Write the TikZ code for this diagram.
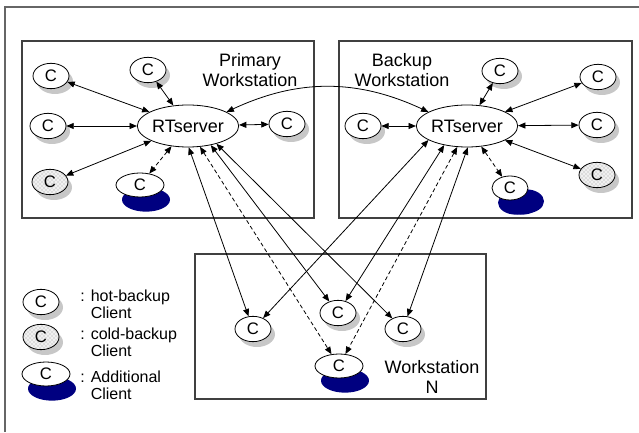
\documentclass[tikz,border=0pt]{standalone}
\usepackage{fontspec}
\setmainfont{Liberation Sans}
\usetikzlibrary{shapes.geometric,shadows,patterns,arrows.meta}
\definecolor{navy}{RGB}{0,0,128}

\begin{document}
\begin{tikzpicture}[x=0.75pt,y=0.75pt,semithick,>={Triangle[length=5.5pt,width=4.5pt]},
	client/.style={ellipse,draw,fill=white,minimum width=27pt,minimum height=19pt,inner sep=0pt,font=\fontsize{12.5}{12.5}\selectfont,drop shadow={shadow xshift=3pt,shadow yshift=-4pt,fill=black!22,opacity=1}},
	cold/.style={client,preaction={fill=gray!12},pattern=crosshatch dots,pattern color=gray!75},
	extra/.style={ellipse,draw,fill=white,minimum width=36pt,minimum height=18pt,inner sep=0pt,font=\fontsize{12.5}{12.5}\selectfont,drop shadow={shadow xshift=4.5pt,shadow yshift=-11pt,fill=navy,opacity=1}},
	server/.style={ellipse,draw,fill=white,minimum width=75pt,minimum height=31.5pt,inner sep=0pt,font=\fontsize{13.5}{13.5}\selectfont},
	wsbox/.style={draw=black!75,line width=0.8pt},
	wslabel/.style={align=center,font=\fontsize{13.5}{15}\selectfont},
	keytext/.style={anchor=west,inner sep=0pt,align=left,font=\fontsize{12}{12.75}\selectfont}]
	\useasboundingbox (0,0) rectangle (639,432);
	\draw[black!60,line width=1.2pt] (5,0) -- (5,425) -- (639,425);
	\draw[wsbox] (22,214) rectangle (314,391);
	\draw[wsbox] (339,214) rectangle (632,391);
	\draw[wsbox] (195,33) rectangle (486,178);
	\node[server] (s1) at (188,306) {RTserver};
	\node[server] (s2) at (467,306) {RTserver};
	\node[client] (p1) at (51,356) {C};
	\node[client] (p2) at (148,362) {C};
	\node[client] (p3) at (48,306) {C};
	\node[client] (p4) at (287,308) {C};
	\node[cold] (p5) at (50,250) {C};
	\node[extra] (p6) at (140,247) {C};
	\node[wslabel] (t1) at (250,362) {Primary\\Workstation};
	\node[client] (b1) at (363,306) {C};
	\node[client] (b2) at (500,361) {C};
	\node[client] (b3) at (598,355) {C};
	\node[client] (b4) at (597,307) {C};
	\node[cold] (b5) at (597,257) {C};
	\node[extra,minimum width=27pt,drop shadow={shadow xshift=9pt,shadow yshift=-11pt,fill=navy,opacity=1},drop shadow={shadow xshift=12pt,shadow yshift=-10pt,fill=navy,opacity=1}] (b6) at (510,244) {C};
	\node[wslabel] (t2) at (402,362) {Backup\\Workstation};
	\node[client] (n1) at (253,103) {C};
	\node[client] (n2) at (338,119) {C};
	\node[client] (n3) at (403,103) {C};
	\node[extra] (n4) at (339,66) {C};
	\node[wslabel] (t3) at (432,55) {Workstation\\N};
	\node[client] (l1) at (41,130) {C};
	\node[cold] (l2) at (41,95) {C};
	\node[extra] (l3) at (46,58) {C};
	\node[keytext] (k1) at (80,128) {: hot-backup\\\hphantom{: }Client};
	\node[keytext] (k2) at (80,89.5) {: cold-backup\\\hphantom{: }Client};
	\node[keytext] (k3) at (80,46.5) {: Additional\\\hphantom{: }Client};
	\draw[<->] (s1) -- (p1);
	\draw[<->] (s1) -- (p2);
	\draw[<->] (s1) -- (p3);
	\draw[<->] (s1) -- (p4);
	\draw[<->] (s1) -- (p5);
	\draw[<->,densely dashed] (s1) -- (p6);
	\draw[<->] (s2) -- (b1);
	\draw[<->] (s2) -- (b2);
	\draw[<->] (s2) -- (b3);
	\draw[<->] (s2) -- (b4);
	\draw[<->] (s2) -- (b5);
	\draw[<->,densely dashed] (s2) -- (b6);
	\draw[<->] (s1.20) to[bend left=25] (s2.160);
	\draw[<->] (s1.-88) -- (n1);
	\draw[<->,densely dashed] (s1.-60) -- (n4);
	\draw[<->] (s1.-40) -- (n2);
	\draw[<->] (s1.-32) -- (n3);
	\draw[<->] (s2.-160) -- (n1);
	\draw[<->] (s2.-140) -- (n2);
	\draw[<->,densely dashed] (s2.-115) -- (n4);
	\draw[<->] (s2.-88) -- (n3);
\end{tikzpicture}
\end{document}
